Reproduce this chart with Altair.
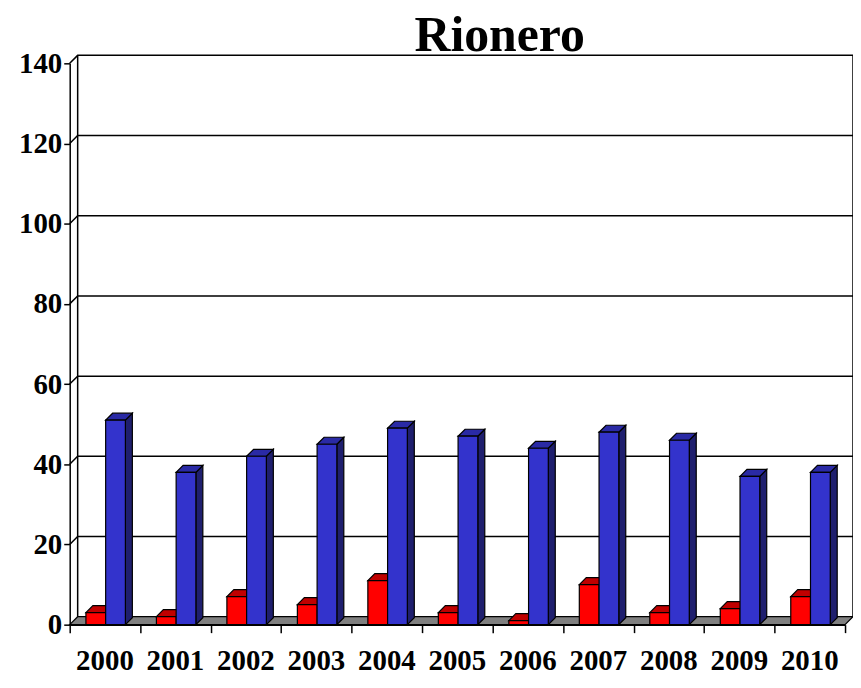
import altair as alt
import pandas as pd

# ---- data ----
years = ["2000", "2001", "2002", "2003", "2004", "2005", "2006", "2007", "2008", "2009", "2010"]
red_values = [3, 2, 7, 5, 11, 3, 1, 10, 3, 4, 7]
blue_values = [51, 38, 42, 45, 49, 47, 44, 48, 46, 37, 38]
y_ticks = [0, 20, 40, 60, 80, 100, 120, 140]
title_text = "Rionero"

# ---- geometry / style ----
W, H = 779, 564
XMAX, YMAX = len(years), 140
ux, uy = W / XMAX, H / YMAX
wall_dx, wall_dy = 8 / ux, 8 / uy
bar_dx, bar_dy = 7 / ux, 7 / uy
RED_SPAN = (0.23, 0.51)
BLUE_SPAN = (0.51, 0.79)
FONT = "Liberation Serif"

xs = alt.Scale(domain=[0, XMAX], nice=False, zero=False)
ys = alt.Scale(domain=[0, YMAX], nice=False, zero=False)
xaxis = alt.Axis(values=list(range(XMAX + 1)), labels=False, tickSize=8, tickColor="black",
                 domainColor="black", domainWidth=1.5, tickWidth=1.5, grid=False, title=None)
yaxis = alt.Axis(values=y_ticks, tickSize=6, tickColor="black", domainColor="black",
                 domainWidth=1.5, tickWidth=1.5, grid=False, title=None, labelFont=FONT,
                 labelFontSize=29, labelFontWeight="bold", labelColor="black", labelPadding=2)
X = alt.X("x:Q", scale=xs, axis=xaxis)
Y = alt.Y("y:Q", scale=ys, axis=yaxis, stack=None)

# back wall grid lines (with the diagonal on the left wall)
grid_rows = []
for v in y_ticks[1:]:
    grid_rows += [{"g": v, "o": 0, "x": 0, "y": v},
                  {"g": v, "o": 1, "x": wall_dx, "y": v + wall_dy},
                  {"g": v, "o": 2, "x": XMAX + wall_dx, "y": v + wall_dy}]
grid = alt.Chart(pd.DataFrame(grid_rows)).mark_line(color="black", strokeWidth=1.5).encode(
    x=X, y=Y, detail="g:N", order="o:Q")

edges = alt.Chart(pd.DataFrame([
    {"x": wall_dx, "y": wall_dy, "y2": YMAX + wall_dy},
    {"x": XMAX + wall_dx, "y": wall_dy, "y2": YMAX + wall_dy},
])).mark_rule(color="black", strokeWidth=1.5).encode(x=X, y=Y, y2="y2:Q")

floor = alt.Chart(pd.DataFrame([
    {"x": 0, "y": 0, "y2": 0},
    {"x": wall_dx, "y": 0, "y2": wall_dy},
    {"x": XMAX, "y": 0, "y2": wall_dy},
    {"x": XMAX + wall_dx, "y": wall_dy, "y2": wall_dy},
])).mark_area(color="#808080", stroke="black", strokeWidth=1.2, opacity=1).encode(
    x=X, y=Y, y2="y2:Q")


def bar_layers(values, span, front_col, top_col, side_col):
    fronts, tops, sides = [], [], []
    for i, (yr, h) in enumerate(zip(years, values)):
        x0, x1 = i + span[0], i + span[1]
        fronts.append({"x": x0, "x2": x1, "y": 0, "y2": h})
        sides += [{"b": yr, "x": x1, "y": 0, "y2": h},
                  {"b": yr, "x": x1 + bar_dx, "y": bar_dy, "y2": h + bar_dy}]
        tops += [{"b": yr, "x": x0, "y": h, "y2": h},
                 {"b": yr, "x": x0 + bar_dx, "y": h, "y2": h + bar_dy},
                 {"b": yr, "x": x1, "y": h, "y2": h + bar_dy},
                 {"b": yr, "x": x1 + bar_dx, "y": h + bar_dy, "y2": h + bar_dy}]
    side = alt.Chart(pd.DataFrame(sides)).mark_area(
        color=side_col, stroke="black", strokeWidth=1.2, opacity=1).encode(
        x=X, y=Y, y2="y2:Q", detail="b:N")
    top = alt.Chart(pd.DataFrame(tops)).mark_area(
        color=top_col, stroke="black", strokeWidth=1.2, opacity=1).encode(
        x=X, y=Y, y2="y2:Q", detail="b:N")
    front = alt.Chart(pd.DataFrame(fronts)).mark_rect(
        color=front_col, stroke="black", strokeWidth=1.2).encode(
        x=X, x2="x2:Q", y=Y, y2="y2:Q")
    return [side, top, front]


red_layers = bar_layers(red_values, RED_SPAN, "#FF0000", "#C00000", "#800000")
blue_layers = bar_layers(blue_values, BLUE_SPAN, "#3333CC", "#2A2AA5", "#1F1F6E")

labels = alt.Chart(pd.DataFrame({"x": [i + 0.5 for i in range(XMAX)], "t": years})).mark_text(
    font=FONT, fontSize=29, fontWeight="bold", color="black", align="center",
    baseline="alphabetic").encode(x=X, y=alt.value(H + 46), text="t:N")

title = alt.Chart(pd.DataFrame({"t": [title_text]})).mark_text(
    font=FONT, fontSize=50, fontWeight="bold", color="black", align="center",
    baseline="alphabetic").encode(x=alt.value(432), y=alt.value(-12), text="t:N")

chart = alt.layer(grid, edges, floor, *red_layers, *blue_layers, labels, title).properties(
    width=W, height=H,
    autosize=alt.AutoSizeParams(type="none"),
    padding={"left": 62, "top": 54, "right": 8, "bottom": 53},
    background="white",
).configure_view(stroke=None)

chart.save("out.html", embed_options={"renderer": "svg", "actions": False})
